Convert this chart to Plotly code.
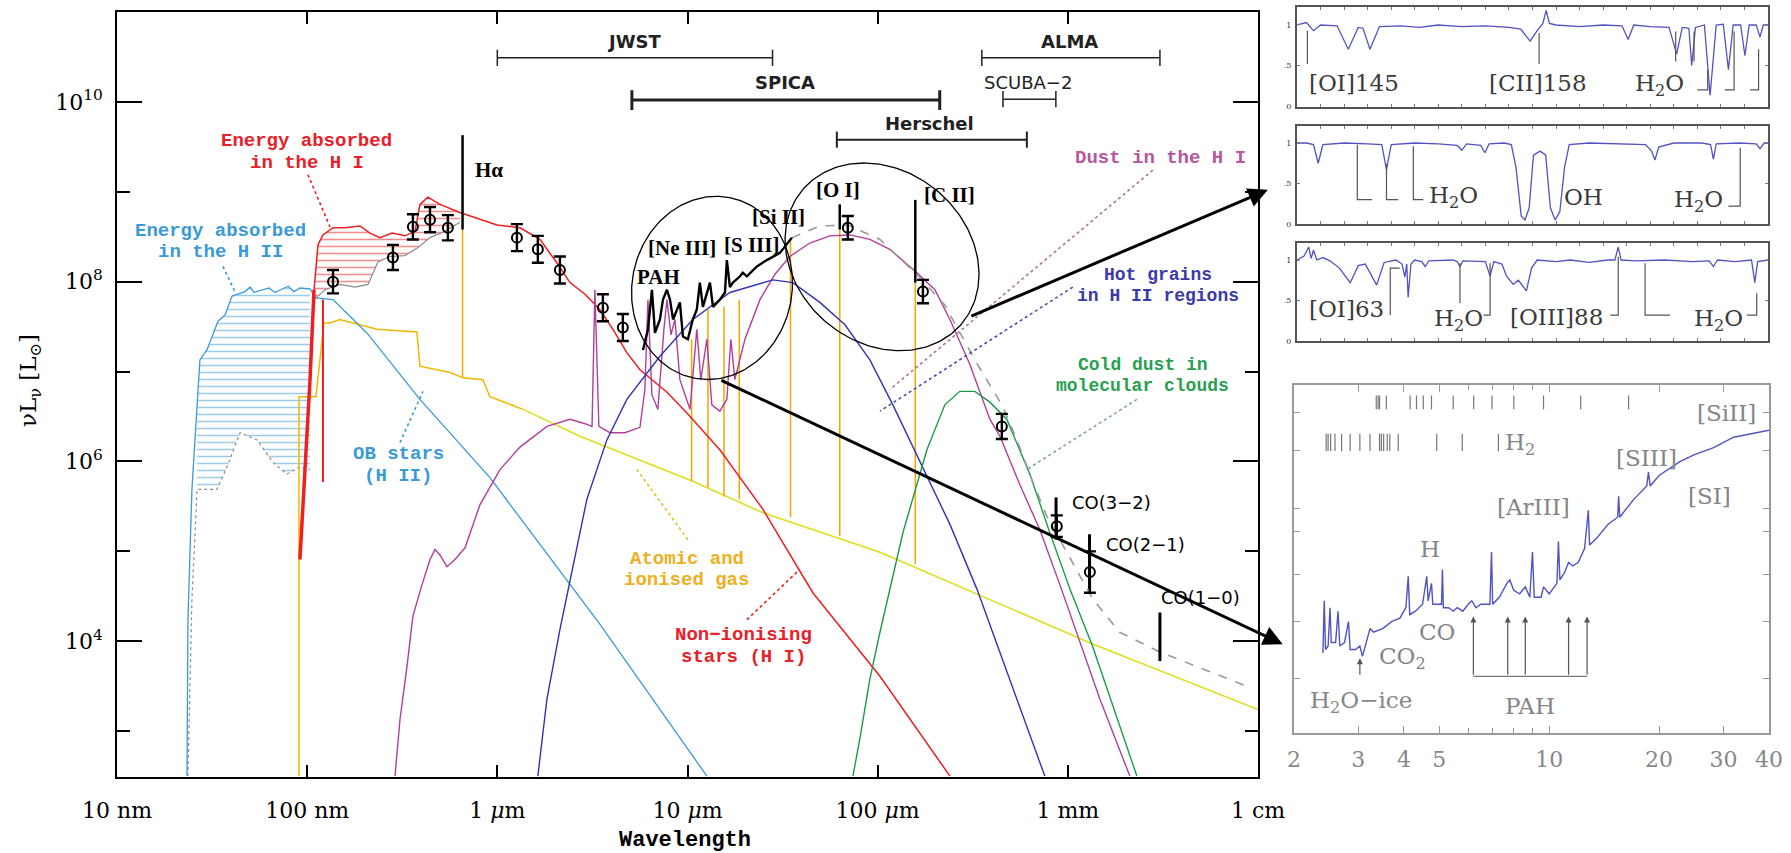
import numpy as np
import plotly.graph_objects as go

W, H = 1791, 853

# ===================== MAIN SED =====================
# values: log10(wavelength / micron), log10(nu L_nu / L_sun)

# Ionising OB stars (H II) - intrinsic spectrum
ob_lw = [-1.632, -1.627, -1.606, -1.579, -1.564, -1.527, -1.501, -1.469, -1.432, -1.395,
         -1.327, -1.300, -1.280, -1.248, -1.200, -1.170, -1.143, -1.100, -1.070, -1.038,
         -0.985, -0.954, -0.864, -0.686, -0.407, -0.039, 0.539, 1.102]
ob_ll = [2.50, 4.24, 5.69, 6.69, 7.13, 7.24, 7.38, 7.56, 7.63, 7.84,
         7.89, 7.94, 7.88, 7.90, 7.93, 7.88, 7.91, 7.95, 7.89, 7.93,
         7.92, 7.82, 7.80, 7.43, 6.69, 5.82, 4.19, 2.50]
# attenuated stellar light below the blue hatch
hii_att_lw = [-1.627, -1.606, -1.579, -1.474, -1.422, -1.353, -1.264, -1.180, -1.106, -1.038, -0.985]
hii_att_ll = [2.50, 4.47, 5.69, 5.69, 5.94, 6.32, 6.24, 5.99, 5.86, 5.94, 5.91]

# Non-ionising stars (H I) - intrinsic spectrum
ni_lw = [-1.038, -1.012, -0.985, -0.964, -0.943, -0.917, -0.864, -0.801, -0.722, -0.670,
         -0.617, -0.554, -0.486, -0.433, -0.407, -0.365, -0.302, -0.197, -0.091, -0.002,
         0.119, 0.224, 0.313, 0.382, 0.461, 0.539, 0.608, 0.681, 0.750, 0.892,
         0.997, 1.170, 1.396, 1.659, 2.012, 2.380]
ni_ll = [4.91, 5.91, 6.91, 7.91, 8.41, 8.52, 8.60, 8.60, 8.62, 8.54,
         8.49, 8.54, 8.51, 8.56, 8.86, 8.94, 8.86, 8.77, 8.69, 8.63,
         8.60, 8.47, 8.21, 7.99, 7.86, 7.69, 7.47, 7.21, 7.02, 6.77,
         6.54, 6.13, 5.47, 4.54, 3.61, 2.50]
# attenuated light below the red hatch
hi_att_lw = [-0.964, -0.906, -0.828, -0.749, -0.680, -0.628, -0.565, -0.486, -0.417, -0.354, -0.276, -0.197]
hi_att_ll = [7.80, 7.91, 7.97, 7.94, 7.97, 8.22, 8.28, 8.29, 8.38, 8.49, 8.56, 8.66]
ni_extra_lw = [-0.917, -0.917]
ni_extra_ll = [5.77, 7.80]

# Atomic and ionised gas continuum
gas_uv_lw = [-1.043, -1.043, -0.954, -0.912, -0.880, -0.828, -0.633, -0.423, -0.407, -0.249,
             -0.181, -0.076, -0.039, 0.135]
gas_uv_ll = [2.50, 6.72, 6.72, 7.54, 7.54, 7.58, 7.47, 7.44, 7.06, 6.99,
             6.93, 6.91, 6.72, 6.58]
gas_ir_lw = [0.135, 0.434, 1.028, 1.396, 2.012, 3.131, 4.000]
gas_ir_ll = [6.58, 6.28, 5.78, 5.43, 4.99, 3.97, 3.24]
# Gas emission lines: H-alpha, [SIV], [NeII], [NeIII], [SIII], [SiII], [OI], [CII]
line_um = [0.6563, 10.51, 12.81, 15.55, 18.71, 34.8, 63.18, 157.7]
line_lo = [6.93, 5.78, 5.71, 5.61, 5.58, 5.38, 5.17, 4.86]
line_hi = [8.58, 7.36, 7.69, 7.72, 7.80, 8.47, 8.58, 7.99]
# observed line tops (black): H-alpha, [OI], [CII]
obsline_um = [0.6563, 63.18, 157.7]
obsline_lo = [8.58, 8.58, 7.99]
obsline_hi = [9.63, 8.86, 8.91]
# CO lines
co_um = [867.0, 1300.4, 3050.0]
co_lo = [5.13, 4.58, 3.78]
co_hi = [5.60, 5.19, 4.32]

# Dust in the H I
dhi_lw = [-0.538, -0.512, -0.475, -0.444, -0.396, -0.354, -0.328, -0.302, -0.265, -0.223,
          -0.170, -0.091, 0.014, 0.119, 0.261, 0.382, 0.461, 0.498, 0.513, 0.534,
          0.592, 0.671, 0.750, 0.776, 0.792, 0.813, 0.844, 0.876, 0.892, 0.913,
          0.934, 0.960, 1.013, 1.049, 1.070, 1.102, 1.128, 1.170, 1.207, 1.228,
          1.249, 1.302, 1.381, 1.459, 1.538, 1.643, 1.749, 1.854, 1.959, 2.064,
          2.206, 2.301, 2.380, 2.485, 2.590, 2.643, 2.748, 2.853, 2.958, 3.047,
          3.168, 3.326]
dhi_ll = [2.50, 3.13, 3.72, 4.28, 4.63, 4.91, 5.02, 4.96, 4.83, 4.91,
          5.04, 5.52, 5.91, 6.16, 6.39, 6.47, 6.42, 6.39, 7.91, 6.39,
          6.32, 6.32, 6.38, 6.80, 7.80, 6.74, 6.58, 7.47, 7.80, 7.41,
          7.58, 6.91, 6.58, 7.47, 6.91, 7.36, 6.63, 6.56, 6.69, 7.36,
          6.91, 7.36, 7.80, 8.08, 8.28, 8.43, 8.51, 8.52, 8.47, 8.36,
          8.10, 7.91, 7.58, 7.08, 6.47, 6.28, 5.74, 5.24, 4.63, 4.10,
          3.36, 2.50]

# Hot grains in H II regions
hot_lw = [0.213, 0.261, 0.329, 0.382, 0.471, 0.576, 0.681, 0.855, 1.028, 1.223,
          1.449, 1.554, 1.696, 1.828, 1.959, 2.080, 2.222, 2.380, 2.522, 2.695, 2.879]
hot_ll = [2.50, 3.36, 4.13, 4.66, 5.58, 6.24, 6.69, 7.17, 7.58, 7.88,
          8.02, 7.99, 7.77, 7.52, 7.13, 6.63, 6.00, 5.30, 4.58, 3.58, 2.50]

# Cold dust in molecular clouds
cold_lw = [1.870, 1.906, 1.959, 2.012, 2.133, 2.259, 2.353, 2.432, 2.511, 2.590,
           2.679, 2.800, 2.905, 3.011, 3.131, 3.247, 3.363]
cold_ll = [2.50, 2.91, 3.58, 4.10, 5.21, 6.13, 6.63, 6.78, 6.78, 6.66,
           6.47, 5.86, 5.21, 4.58, 3.94, 3.22, 2.50]

# Total model (grey dashed)
tot_lw = [1.549, 1.696, 1.843, 2.012, 2.206, 2.353, 2.511, 2.658, 2.732, 2.816,
          2.890, 3.131, 3.273, 3.484, 3.941]
tot_ll = [8.49, 8.62, 8.63, 8.47, 8.08, 7.74, 7.13, 6.61, 6.24, 5.77,
          5.39, 4.47, 4.10, 3.88, 3.50]

# Observed mid-IR spectrum (black)
mir_lw = [0.766, 0.792, 0.813, 0.829, 0.855, 0.871, 0.892, 0.908, 0.924, 0.944,
          0.960, 0.976, 1.002, 1.028, 1.049, 1.065, 1.081, 1.118, 1.134, 1.170,
          1.197, 1.207, 1.223, 1.239, 1.276, 1.291, 1.312, 1.365, 1.417, 1.486, 1.549]
mir_ll = [7.24, 7.47, 7.91, 7.43, 7.58, 7.80, 7.91, 7.80, 7.58, 7.69,
          7.77, 7.39, 7.36, 7.58, 7.69, 7.99, 7.72, 7.99, 7.72, 7.80,
          7.88, 8.24, 7.94, 7.99, 8.06, 8.10, 8.06, 8.17, 8.24, 8.32, 8.49]

# Photometric data points with errors (dex)
pt_lw = [-0.864, -0.549, -0.444, -0.354, -0.260, 0.103, 0.213, 0.329, 0.555, 0.660,
         1.843, 2.238, 2.653, 2.942, 3.116]
pt_ll = [8.00, 8.27, 8.61, 8.69, 8.60, 8.49, 8.36, 8.13, 7.71, 7.49,
         8.60, 7.89, 6.39, 5.28, 4.77]
pt_err = [0.13, 0.14, 0.14, 0.14, 0.14, 0.15, 0.15, 0.15, 0.15, 0.15,
          0.13, 0.13, 0.14, 0.12, 0.23]

# Instrument coverage (micron) and level (log L)
inst_names = ["JWST", "SPICA", "Herschel", "ALMA", "SCUBA\u22122"]
inst_lo = [1.0, 5.1, 61.0, 353.0, 456.0]
inst_hi = [28.0, 212.0, 609.0, 3050.0, 865.0]
inst_lev = [10.49, 10.02, 9.58, 10.49, 10.03]

# ===================== INSET SPECTRA =====================
p1 = [(0, 1.0), (2.0, 1.03), (3.5, 0.93), (5.0, 1.0), (8.5, 0.99), (10.9, 0.70), (13.0, 0.97),
      (14.0, 0.96), (15.5, 0.70), (17.5, 0.98), (22, 0.99), (26, 0.97), (30, 1.0), (35, 0.98),
      (40, 0.99), (45, 0.97), (47.5, 0.95), (49.5, 0.80), (51.0, 0.93), (52.2, 1.02), (52.9, 1.18),
      (53.6, 1.02), (55, 1.0), (60, 0.98), (65, 1.0), (69, 0.99), (70.3, 0.82), (71.5, 1.0),
      (75, 0.98), (79, 0.97), (80.6, 0.64), (81.8, 0.97), (83.2, 0.96), (83.8, 0.50), (84.6, 0.97),
      (86.5, 1.0), (87.7, 0.13), (89.0, 1.0), (90.5, 1.01), (91.6, 0.45), (92.6, 1.0), (94.2, 1.0),
      (95.1, 0.62), (96.0, 1.0), (97.5, 1.0), (98.3, 0.85), (99.0, 1.0), (100, 1.0)]
p2 = [(0, 1.0), (2, 1.0), (3.5, 0.98), (4.5, 0.75), (5.5, 0.98), (10, 1.0), (15, 0.99), (18, 0.98),
      (19.0, 0.67), (20, 0.98), (25, 1.0), (30, 0.99), (34, 0.97), (35.0, 0.91), (36, 0.99),
      (39, 0.97), (39.9, 0.88), (40.8, 0.99), (44, 1.0), (45.5, 0.98), (46.5, 0.70), (47.6, 0.10),
      (48.4, 0.05), (49.3, 0.20), (50.2, 0.85), (51.6, 0.90), (52.8, 0.85), (53.8, 0.20),
      (54.8, 0.05), (55.8, 0.15), (56.8, 0.70), (57.8, 0.98), (62, 1.0), (68, 0.99), (74, 0.98),
      (75.3, 0.90), (76.0, 0.79), (76.8, 0.95), (80, 1.0), (86, 1.0), (87.8, 0.98), (88.4, 0.80),
      (89, 0.99), (94, 1.0), (97.5, 0.99), (98.3, 0.93), (99.2, 1.0), (100, 1.0)]
p3 = [(0, 1.0), (1.5, 1.05), (2.5, 1.16), (3.0, 1.02), (3.5, 1.12), (4.2, 1.0), (5.5, 1.03),
      (7, 0.99), (9, 0.90), (11.3, 0.72), (13, 0.93), (14.5, 0.95), (16.9, 0.69), (18.5, 0.97),
      (21, 1.0), (22.3, 0.95), (22.9, 0.79), (23.3, 0.95), (23.6, 0.54), (24.2, 0.95), (25, 1.0),
      (26.5, 0.98), (27.2, 0.92), (28, 0.99), (33, 1.0), (34.0, 0.98), (34.6, 0.92), (35.2, 0.99),
      (40, 0.98), (41.0, 0.80), (41.8, 0.98), (43.5, 0.95), (44.5, 0.80), (45.9, 0.70), (47, 0.75),
      (48.7, 0.62), (49.8, 0.90), (51, 1.0), (55, 0.98), (58, 1.0), (62, 0.97), (66, 1.0),
      (67.5, 1.0), (68.2, 1.16), (68.8, 1.0), (72, 0.99), (78, 1.0), (84, 0.98), (87.5, 0.99),
      (88.4, 0.92), (89.3, 1.0), (93, 0.98), (96.5, 1.0), (97.2, 0.72), (97.8, 0.98), (100, 1.0)]
# bracket markers in insets
p1_marks = [[(2.2, 0.93), (2.2, 0.52)], [(51.4, 0.90), (51.4, 0.52)], [(80.4, 0.92), (80.4, 0.55)],
            [(84.3, 0.92), (84.3, 0.55)], [(85.0, 0.20), (87.2, 0.20), (87.2, 0.45)],
            [(90.8, 0.20), (92.8, 0.20), (92.8, 0.92)], [(96.2, 0.20), (98.0, 0.20), (98.0, 0.70)]]
p2_marks = [[(12.8, 0.98), (12.8, 0.30), (15.9, 0.30)], [(19.0, 0.74), (19.0, 0.30), (21.5, 0.30)],
            [(24.7, 0.96), (24.7, 0.30), (26.8, 0.30)], [(91.6, 0.22), (94.1, 0.22), (94.1, 0.94)]]
p3_marks = [[(19.8, 0.32), (19.8, 0.90), (21.8, 0.90)], [(34.6, 0.96), (34.6, 0.47)],
            [(39.6, 0.32), (41.0, 0.32), (41.0, 0.96)], [(66.5, 0.32), (68.2, 0.32), (68.2, 1.04)],
            [(73.9, 0.96), (73.9, 0.32), (79.2, 0.32)], [(95.5, 0.32), (97.6, 0.32), (97.6, 0.59)]]
p1_labels = [("[OI]145", 12.0, 0.28), ("[CII]158", 51.2, 0.28), ("H<sub>2</sub>O", 77.0, 0.26)]
p2_labels = [("H<sub>2</sub>O", 33.2, 0.33), ("OH", 60.8, 0.33), ("H<sub>2</sub>O", 85.3, 0.28)]
p3_labels = [("[OI]63", 10.5, 0.40), ("H<sub>2</sub>O", 34.3, 0.26), ("[OIII]88", 55.1, 0.30),
             ("H<sub>2</sub>O", 89.5, 0.26)]

# Mid-IR spectrum inset (micron, relative flux)
p4 = [(2.40, 0.23), (2.42, 0.38), (2.44, 0.24), (2.48, 0.25), (2.51, 0.36), (2.53, 0.26), (2.60, 0.26),
      (2.64, 0.35), (2.67, 0.25), (2.75, 0.26), (2.82, 0.32), (2.85, 0.24), (2.95, 0.24), (3.03, 0.25),
      (3.08, 0.22), (3.15, 0.26), (3.23, 0.30), (3.30, 0.29), (3.50, 0.30), (3.70, 0.32), (3.90, 0.33),
      (4.05, 0.36), (4.11, 0.45), (4.15, 0.34), (4.30, 0.35), (4.50, 0.37), (4.62, 0.45), (4.66, 0.38),
      (4.76, 0.43), (4.80, 0.37), (5.07, 0.37), (5.10, 0.47), (5.13, 0.36), (5.30, 0.36), (5.46, 0.35),
      (5.60, 0.36), (5.80, 0.35), (6.00, 0.37), (6.14, 0.38), (6.30, 0.36), (6.50, 0.37), (6.88, 0.37),
      (6.95, 0.52), (7.00, 0.37), (7.30, 0.39), (7.66, 0.43), (7.80, 0.44), (8.00, 0.41), (8.30, 0.40),
      (8.60, 0.42), (8.85, 0.39), (9.00, 0.52), (9.10, 0.39), (9.50, 0.39), (9.65, 0.42), (10.0, 0.40),
      (10.5, 0.43), (10.6, 0.55), (10.7, 0.44), (11.0, 0.46), (11.3, 0.49), (11.6, 0.48), (12.0, 0.49),
      (12.5, 0.53), (12.8, 0.64), (12.9, 0.54), (13.5, 0.56), (14.5, 0.60), (15.4, 0.62), (15.5, 0.68),
      (15.6, 0.62), (17.0, 0.67), (18.5, 0.71), (18.7, 0.75), (18.9, 0.71), (20.0, 0.74), (22.8, 0.78),
      (25.0, 0.80), (28.2, 0.82), (32.0, 0.85), (36.0, 0.86), (40.0, 0.87)]
h2_row1_um = [3.36, 3.40, 3.43, 3.58, 4.16, 4.33, 4.52, 4.76, 5.46, 6.21, 6.97, 8.0, 9.65, 12.2, 16.5]
h2_row2_um = [2.45, 2.48, 2.52, 2.59, 2.70, 2.85, 3.03, 3.23, 3.43, 3.47, 3.52, 3.60, 3.66, 3.86,
              4.92, 5.78, 7.26]
pah_um = [6.2, 7.7, 8.6, 11.3, 12.7]
p4_labels = [("[SiII]", 30.5, 0.92), ("[SIII]", 18.5, 0.79), ("[SI]", 27.5, 0.68),
             ("[ArIII]", 9.07, 0.65), ("H", 4.72, 0.53), ("H<sub>2</sub>", 8.3, 0.83),
             ("CO", 4.92, 0.29), ("CO<sub>2</sub>", 3.97, 0.215), ("H<sub>2</sub>O\u2212ice", 3.06, 0.09),
             ("PAH", 8.87, 0.077)]

# ===================== STYLE =====================
BLUE = "#3b9ad8"; RED = "#f01e1e"; GOLD = "#f0b800"; YEL = "#dede1a"; ORANGE = "#f5a600"
PURPLE = "#b0409a"; DBLUE = "#3232b4"; GREEN = "#1c9a4c"; GREY = "#8c8c8c"; SPEC = "#5252c2"
MONO = "Liberation Mono"; SERIF = "DejaVu Serif"

# main axes geometry (pixels) used for ellipse aspect
X0, X1, Y0, Y1 = 117, 1258, 12, 777
XR = [-2.0, 4.0]
YR = [2.49, 11.0]
PXX = (X1 - X0) / (XR[1] - XR[0])
PXY = (Y1 - Y0) / (YR[1] - YR[0])

fig = go.Figure()


def lin(v):
    return [None if a is None else 10 ** a for a in v]


def add(x, y, color, width=1.5, dash=None, xa="x", ya="y", mode="lines", **kw):
    fig.add_trace(go.Scatter(x=x, y=y, mode=mode, line=dict(color=color, width=width, dash=dash),
                             xaxis=xa, yaxis=ya, hoverinfo="skip", showlegend=False, **kw))


def vsegs(xs, lo, hi):
    X, Y = [], []
    for a, b, c in zip(xs, lo, hi):
        X += [a, a, None]
        Y += [10 ** b, 10 ** c, None]
    return X, Y


# hatched regions
pat = dict(shape="-", size=7, solidity=0.22, bgcolor="rgba(255,255,255,0)")
fig.add_trace(go.Scatter(x=lin(ob_lw[3:21] + hii_att_lw[2:][::-1]), y=lin(ob_ll[3:21] + hii_att_ll[2:][::-1]),
                         mode="lines", line=dict(width=0), fill="toself", fillcolor="rgba(0,0,0,0)",
                         fillpattern=dict(fgcolor=BLUE, **pat), hoverinfo="skip", showlegend=False))
fig.add_trace(go.Scatter(x=lin(ni_lw[3:18] + hi_att_lw[::-1]), y=lin(ni_ll[3:18] + hi_att_ll[::-1]),
                         mode="lines", line=dict(width=0), fill="toself", fillcolor="rgba(0,0,0,0)",
                         fillpattern=dict(fgcolor=RED, **pat), hoverinfo="skip", showlegend=False))

# attenuated (grey) curves
add(lin(hii_att_lw), lin(hii_att_ll), GREY, 1.2, "dot")
add(lin(hi_att_lw), lin(hi_att_ll), GREY, 1.2)

# gas
add(lin(gas_uv_lw), lin(gas_uv_ll), GOLD, 1.5)
add(lin(gas_ir_lw), lin(gas_ir_ll), YEL, 1.5)
lx, ly = vsegs(line_um, line_lo, line_hi)
add(lx, ly, ORANGE, 1.5)

# stars
add(lin(ob_lw), lin(ob_ll), BLUE, 1.3)
add(lin(ni_lw), lin(ni_ll), RED, 1.5)
add(lin(ni_lw[:4]), lin(ni_ll[:4]), RED, 3.5)
add(lin(ni_extra_lw), lin(ni_extra_ll), RED, 2)

# dust
add(lin(dhi_lw), lin(dhi_ll), PURPLE, 1.4)
add(lin(hot_lw), lin(hot_ll), DBLUE, 1.4)
add(lin(cold_lw), lin(cold_ll), GREEN, 1.4)
add(lin(tot_lw), lin(tot_ll), "#9a9a9a", 1.6, "dash")

# observed spectrum and lines
add(lin(mir_lw), lin(mir_ll), "black", 2.4)
lx, ly = vsegs(obsline_um, obsline_lo, obsline_hi)
add(lx, ly, "black", 2.5)
lx, ly = vsegs(co_um, co_lo, co_hi)
add(lx, ly, "black", 3.0)

# data points
pv = np.array(pt_ll); pe = np.array(pt_err)
fig.add_trace(go.Scatter(
    x=lin(pt_lw), y=list(10 ** pv), mode="markers",
    marker=dict(symbol="circle-open", size=10, color="black", line=dict(width=2, color="black")),
    error_y=dict(type="data", symmetric=False, array=list(10 ** (pv + pe) - 10 ** pv),
                 arrayminus=list(10 ** pv - 10 ** (pv - pe)), thickness=2.4, width=6, color="black"),
    hoverinfo="skip", showlegend=False))

# instrument bars
for name, lo, hi, lev in zip(inst_names, inst_lo, inst_hi, inst_lev):
    wbar = 3 if name == "SPICA" else (2 if name == "Herschel" else 1.5)
    cap = 0.11 if name == "SPICA" else 0.09
    add([lo, hi], [10 ** lev, 10 ** lev], "#222", wbar)
    add([lo, lo, None, hi, hi], [10 ** (lev - cap), 10 ** (lev + cap), None, 10 ** (lev - cap), 10 ** (lev + cap)],
        "#222", wbar)


# ellipses (circled regions)
def ellipse(clw, cll, a, b, ang):
    t = np.linspace(0, 2 * np.pi, 240)
    th = np.radians(ang)
    dx = a * np.cos(t) * np.cos(th) - b * np.sin(t) * np.sin(th)
    dy = a * np.cos(t) * np.sin(th) + b * np.sin(t) * np.cos(th)
    return list(10 ** (clw + dx / PXX)), list(10 ** (cll + dy / PXY))


ex, ey = ellipse(1.129, 7.931, 92, 80, 79)
add(ex, ey, "black", 1.3)
ex, ey = ellipse(2.023, 8.276, 104, 86, -40)
add(ex, ey, "black", 1.3)

# dotted leader lines: (lw0, ll0, lw1, ll1, color)
leaders = [(-0.996, 9.19, -0.880, 8.61, RED), (-1.443, 8.17, -1.380, 7.89, BLUE),
           (-0.512, 6.21, -0.391, 6.78, BLUE), (1.002, 5.13, 0.734, 5.91, "#e0c020"),
           (1.312, 4.24, 1.591, 4.80, RED), (3.447, 9.24, 2.064, 6.80, "#b070a0"),
           (3.026, 7.94, 2.012, 6.56, "#4a4aa8"), (3.363, 6.69, 2.784, 5.91, "#80a890")]
for a0, b0, a1, b1, c in leaders:
    add([10 ** a0, 10 ** a1], [10 ** b0, 10 ** b1], c, 1.6, "dot")

# ---------------- inset traces ----------------
for k, (spec, marks) in enumerate([(p1, p1_marks), (p2, p2_marks), (p3, p3_marks)], start=2):
    xa, ya = "x%d" % k, "y%d" % k
    add([p[0] for p in spec], [p[1] for p in spec], SPEC, 1.3, xa=xa, ya=ya)
    mx, my = [], []
    for m in marks:
        mx += [p[0] for p in m] + [None]
        my += [p[1] for p in m] + [None]
    add(mx, my, "#555", 1.2, xa=xa, ya=ya)

add([p[0] for p in p4], [p[1] for p in p4], SPEC, 1.4, xa="x5", ya="y5")
tx, ty = [], []
for v in h2_row1_um:
    tx += [v, v, None]; ty += [0.93, 0.97, None]
for v in h2_row2_um:
    tx += [v, v, None]; ty += [0.81, 0.86, None]
add(tx, ty, "#777", 1.2, xa="x5", ya="y5")
add([pah_um[0], pah_um[-1]], [0.163, 0.163], "#777", 1.2, xa="x5", ya="y5")

# ===================== ANNOTATIONS =====================
ann = []


def txt(text, x, y, color="black", size=20, family=MONO, xref="x", yref="y", xanchor="center",
        yanchor="middle", **kw):
    ann.append(dict(text=text, x=x, y=y, xref=xref, yref=yref, showarrow=False, xanchor=xanchor,
                    yanchor=yanchor, font=dict(family=family, size=size, color=color), **kw))


LRED = "#e8202a"; LBLUE = "#3a9ad6"; LOR = "#eeb020"; LPUR = "#b8569e"; LDB = "#3a3aa8"; LGR = "#28a050"
txt("<b>Energy absorbed</b>", -1.001, 9.560, LRED, 19)
txt("<b>in the H I</b>", -1.001, 9.321, LRED, 19)
txt("<b>Energy absorbed</b>", -1.458, 8.560, LBLUE, 19)
txt("<b>in the H II</b>", -1.458, 8.331, LBLUE, 19)
txt("<b>OB stars</b>", -0.522, 6.080, LBLUE, 19)
txt("<b>(H II)</b>", -0.522, 5.840, LBLUE, 19)
txt("<b>Atomic and</b>", 0.997, 4.915, LOR, 19)
txt("<b>ionised gas</b>", 0.997, 4.683, LOR, 19)
txt("<b>Non\u2212ionising</b>", 1.292, 4.070, LRED, 19)
txt("<b>stars (H I)</b>", 1.292, 3.827, LRED, 19)
txt("<b>Dust in the H I</b>", 3.485, 9.377, LPUR, 19)
txt("<b>Hot grains</b>", 3.474, 8.070, LDB, 18)
txt("<b>in H II regions</b>", 3.474, 7.845, LDB, 18)
txt("<b>Cold dust in</b>", 3.395, 7.070, LGR, 18)
txt("<b>molecular clouds</b>", 3.395, 6.845, LGR, 18)

BSER = "Liberation Serif"
txt("<b>H\u03b1</b>", -0.128, 9.244, size=21, family=BSER, xanchor="left")
txt("<b>PAH</b>", 0.845, 8.053, size=21, family=BSER)
txt("<b>[Ne III]</b>", 0.970, 8.376, size=21, family=BSER)
txt("<b>[S III]</b>", 1.335, 8.409, size=21, family=BSER)
txt("<b>[Si II]</b>", 1.476, 8.721, size=21, family=BSER)
txt("<b>[O I]</b>", 1.791, 9.021, size=21, family=BSER)
txt("<b>[C II]</b>", 2.380, 8.966, size=21, family=BSER)
txt("CO(3\u22122)", 3.227, 5.539, size=18, family="DejaVu Sans")
txt("CO(2\u22121)", 3.411, 5.072, size=18, family="DejaVu Sans")
txt("CO(1\u22120)", 3.700, 4.483, size=18, family="DejaVu Sans")

inst_lab = [("JWST", 0.723, 10.667, True), ("SPICA", 1.512, 10.211, True), ("Herschel", 2.275, 9.755, True),
            ("ALMA", 3.011, 10.667, True), ("SCUBA\u22122", 2.790, 10.211, False)]
for t, a, b, bold in inst_lab:
    txt("<b>%s</b>" % t if bold else t, a, b, "#222", 18, "DejaVu Sans")

# axis titles
txt("<b>Wavelength</b>", 685 / W, 1 - 840 / H, "black", 22, MONO, xref="paper", yref="paper")
txt("\u03bdL<sub>\u03bd</sub> [L<sub>\u2299</sub>]", 30 / W, 1 - 380 / H, "black", 23, SERIF,
    xref="paper", yref="paper", textangle=-90)

# big arrows to the insets
for (tlw, tll, hlw, hll) in [(2.485, 7.611, 4.052, 9.022), (1.170, 6.911, 4.130, 3.967)]:
    ann.append(dict(x=hlw, y=hll, ax=tlw, ay=tll, xref="x", yref="y", axref="x", ayref="y",
                    showarrow=True, arrowhead=2, arrowsize=1.3, arrowwidth=3, arrowcolor="black", text=""))

# inset labels
for k, labs in zip([2, 3, 4], [p1_labels, p2_labels, p3_labels]):
    for t, a, b in labs:
        txt(t, a, b, "#3a3a3a", 23, SERIF, xref="x%d" % k, yref="y%d" % k)
for t, a, b in p4_labels:
    txt(t, float(np.log10(a)), b, "#858585", 23, SERIF, xref="x5", yref="y5")
for v in pah_um:
    ann.append(dict(x=float(np.log10(v)), y=0.335, ax=float(np.log10(v)), ay=0.163, xref="x5", yref="y5",
                    axref="x5", ayref="y5", showarrow=True, arrowhead=2, arrowsize=1.0, arrowwidth=1.2,
                    arrowcolor="#555", text=""))
ann.append(dict(x=float(np.log10(3.03)), y=0.215, ax=float(np.log10(3.03)), ay=0.163, xref="x5", yref="y5",
                axref="x5", ayref="y5", showarrow=True, arrowhead=2, arrowsize=1.0, arrowwidth=1.2,
                arrowcolor="#555", text=""))

# ===================== LAYOUT =====================
main_x = dict(domain=[X0 / W, X1 / W], type="log", range=XR, anchor="y",
              tickvals=[0.01, 0.1, 1, 10, 100, 1000, 10000],
              ticktext=["10 nm", "100 nm", "1 <i>\u03bc</i>m", "10 <i>\u03bc</i>m", "100 <i>\u03bc</i>m",
                        "1 mm", "1 cm"],
              ticks="inside", ticklen=12, tickwidth=1.5, tickcolor="black",
              showline=True, linecolor="black", linewidth=1.6, mirror="allticks",
              showgrid=False, zeroline=False, automargin=False, ticklabelstandoff=13,
              tickfont=dict(family=SERIF, size=22, color="black"))
main_y = dict(domain=[1 - Y1 / H, 1 - Y0 / H], type="log", range=YR, anchor="x",
              tickvals=[1e4, 1e6, 1e8, 1e10],
              ticktext=["10<sup>4</sup>", "10<sup>6</sup>", "10<sup>8</sup>", "10<sup>10</sup>"],
              ticks="inside", ticklen=25, tickwidth=1.5, tickcolor="black",
              minor=dict(tickvals=[1e3, 1e5, 1e7, 1e9], ticks="inside", ticklen=13, tickwidth=1.5,
                         tickcolor="black"),
              showline=True, linecolor="black", linewidth=1.6, mirror="allticks",
              showgrid=False, zeroline=False, automargin=False, ticklabelstandoff=8,
              tickfont=dict(family=SERIF, size=22, color="black"))

layout = dict(width=W, height=H, margin=dict(l=0, r=0, t=0, b=0), paper_bgcolor="white",
              plot_bgcolor="white", showlegend=False, xaxis=main_x, yaxis=main_y, annotations=ann)

inset_y = {2: ([1 - 107 / H, 1 - 7 / H], [-0.012, 1.222]),
           3: ([1 - 224 / H, 1 - 126 / H], [0.0, 1.21]),
           4: ([1 - 341 / H, 1 - 243 / H], [0.0, 1.21])}
for k, (dom, rng) in inset_y.items():
    layout["xaxis%d" % k] = dict(domain=[1297 / W, 1768 / W], range=[0, 100], anchor="y%d" % k,
                                 showticklabels=False, ticks="inside", ticklen=3, tickcolor="#777",
                                 tickvals=list(range(0, 101, 5)), showline=True, linecolor="#555",
                                 linewidth=2.2, mirror="allticks", showgrid=False, zeroline=False,
                                 automargin=False)
    layout["yaxis%d" % k] = dict(domain=dom, range=rng, anchor="x%d" % k, tickvals=[0, 0.5, 1],
                                 ticktext=["0", ".5", "1"], tickfont=dict(family=SERIF, size=8, color="#333"),
                                 ticks="inside", ticklen=3, tickcolor="#777", showline=True, linecolor="#555",
                                 linewidth=2.2, mirror="allticks", showgrid=False, zeroline=False,
                                 automargin=False, ticklabelstandoff=2)
layout["xaxis5"] = dict(domain=[1294 / W, 1769 / W], type="log", range=[np.log10(2), np.log10(40)],
                        anchor="y5", tickvals=[2, 3, 4, 5, 10, 20, 30, 40],
                        ticktext=["2", "3", "4", "5", "10", "20", "30", "40"],
                        ticks="inside", ticklen=7, tickcolor="#999",
                        minor=dict(tickvals=[6, 7, 8, 9], ticks="inside", ticklen=5, tickcolor="#999"),
                        showline=True, linecolor="#999", linewidth=1.5, mirror="allticks",
                        showgrid=False, zeroline=False, automargin=False, ticklabelstandoff=6,
                        tickfont=dict(family=SERIF, size=22, color="#888"))
layout["yaxis5"] = dict(domain=[1 - 733 / H, 1 - 385 / H], range=[0, 1], anchor="x5",
                        tickvals=[0.158, 0.321, 0.455, 0.579, 0.646, 0.813, 0.92], showticklabels=False,
                        ticks="inside", ticklen=6, tickcolor="#999", showline=True, linecolor="#999",
                        linewidth=1.5, mirror="allticks", showgrid=False, zeroline=False, automargin=False)

fig.update_layout(**layout)
fig.write_html("out.html")
